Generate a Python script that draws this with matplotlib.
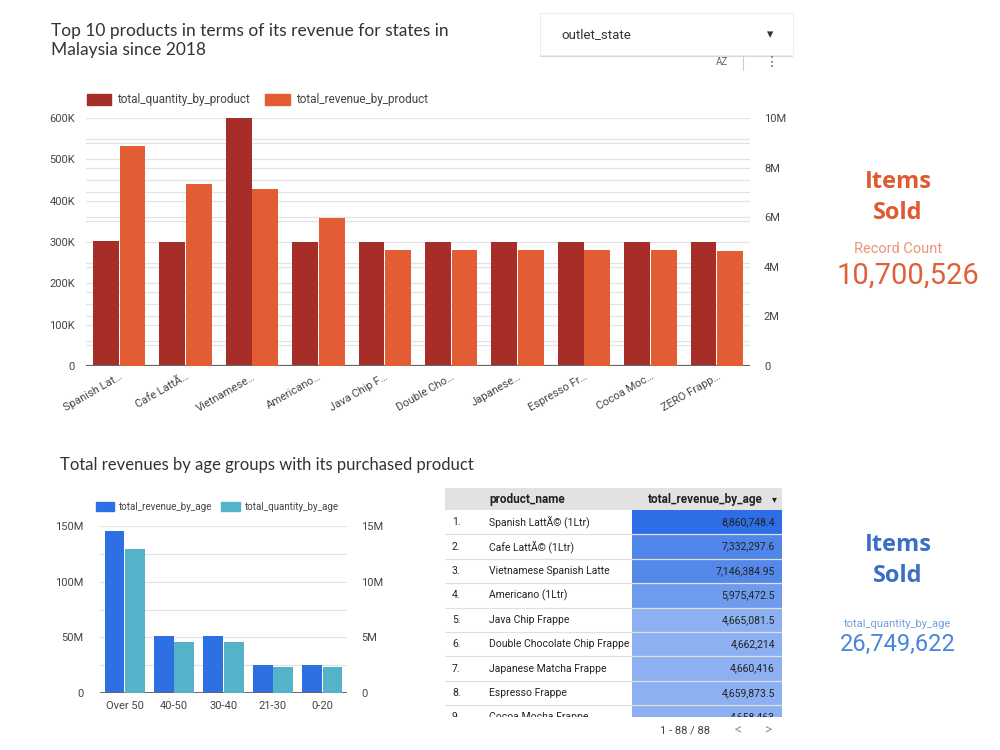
import numpy as np
import matplotlib.pyplot as plt
from matplotlib.patches import Rectangle, Patch
from matplotlib.colors import LinearSegmentedColormap, Normalize

# ---- data ----
products = ["Spanish Lat…", "Cafe LattÃ…", "Vietnamese…", "Americano…", "Java Chip F…",
            "Double Cho…", "Japanese…", "Espresso Fr…", "Cocoa Moc…", "ZERO Frapp…"]
qty_by_product = [302000, 300000, 600000, 299500, 300000, 300000, 300000, 300000, 300000, 300000]
rev_by_product = [8860748, 7332298, 7146385, 5975473, 4665082, 4662214, 4660416, 4659874, 4658463, 4652000]

age_groups = ["Over 50", "40-50", "30-40", "21-30", "0-20"]
rev_by_age = [145.2e6, 51.5e6, 51.5e6, 24.9e6, 24.9e6]
qty_by_age = [12.9e6, 4.6e6, 4.6e6, 2.3e6, 2.35e6]

table_names = ["Spanish LattÃ© (1Ltr)", "Cafe LattÃ© (1Ltr)", "Vietnamese Spanish Latte",
               "Americano (1Ltr)", "Java Chip Frappe", "Double Chocolate Chip Frappe",
               "Japanese Matcha Frappe", "Espresso Frappe", "Cocoa Mocha Frappe"]
table_values = [8860748.4, 7332297.6, 7146384.95, 5975472.5, 4665081.5, 4662214,
                4660416, 4659873.5, 4658463]
table_labels = ["8,860,748.4", "7,332,297.6", "7,146,384.95", "5,975,472.5", "4,665,081.5",
                "4,662,214", "4,660,416", "4,659,873.5", "4,658,463"]

record_count = "10,700,526"
total_qty_age = "26,749,622"

DARK_RED = "#a62d28"
ORANGE = "#e35d34"
BLUE = "#2f6fe4"
TEAL = "#54b3c8"
GRID = "#e3e3e3"
TXT = "#444444"

plt.rcParams['font.family'] = ['Roboto', 'DejaVu Sans']

W, H = 1000, 750
fig = plt.figure(figsize=(10, 7.5), dpi=100)


def box(x0, y0, x1, y1):
    # pixel box (top-left origin) -> figure fraction rect
    return [x0 / W, 1 - y1 / H, (x1 - x0) / W, (y1 - y0) / H]


def fx(x):
    return x / W


def fy(y):
    return 1 - y / H


# ---- top chart ----
ax = fig.add_axes(box(86, 118, 750, 366))
ax2 = ax.twinx()
x = np.arange(len(products))
bw = 0.39
ax.bar(x - 0.2, qty_by_product, bw, color=DARK_RED, zorder=3)
ax2.bar(x + 0.2, rev_by_product, bw, color=ORANGE, zorder=3)
ax.set_xlim(-0.5, len(products) - 0.5)
ax.set_ylim(0, 600000)
ax2.set_ylim(0, 10e6)
ax.set_yticks(np.arange(0, 600001, 100000))
ax.set_yticklabels(["0", "100K", "200K", "300K", "400K", "500K", "600K"])
ax2.set_yticks(np.arange(0, 10e6 + 1, 2e6))
ax2.set_yticklabels(["0", "2M", "4M", "6M", "8M", "10M"])
# gridlines for both scales, drawn on the left axis
grid_pos = sorted(set(np.arange(0, 600001, 50000)) | set(np.arange(0, 600001, 60000)))
ax.set_yticks(grid_pos, minor=True)
ax.grid(axis='y', which='both', color=GRID, lw=0.9, zorder=0)
ax.set_axisbelow(True)
ax.set_xticks(x)
ax.set_xticklabels(products, rotation=30, ha='right', rotation_mode='anchor', fontsize=8, color=TXT)
for a in (ax, ax2):
    for s in a.spines.values():
        s.set_visible(False)
    a.tick_params(axis='both', which='both', length=0, labelsize=8, labelcolor=TXT)
ax.tick_params(axis='y', pad=8)
ax2.tick_params(axis='y', pad=10)
ax.tick_params(axis='x', pad=4)
ax.axhline(0, color="#666666", lw=1.6, zorder=4)
ax.legend([Patch(color=DARK_RED), Patch(color=ORANGE)],
          ["total_quantity_by_product", "total_revenue_by_product"],
          loc='center left', bbox_to_anchor=(fx(76), fy(100)), bbox_transform=fig.transFigure,
          ncol=2, frameon=False, fontsize=8.5, handlelength=2.1, handleheight=1.0,
          handletextpad=0.5, columnspacing=1.3, labelcolor=TXT)

fig.text(fx(51), fy(31), "Top 10 products in terms of its revenue for states in",
         fontsize=12.5, family=['Lato', 'DejaVu Sans'], color="#333333", va='center')
fig.text(fx(51), fy(50), "Malaysia since 2018",
         fontsize=12.5, family=['Lato', 'DejaVu Sans'], color="#333333", va='center')

# dropdown control
fig.patches.append(Rectangle((fx(540), fy(57)), (793 - 540) / W, 44 / H, transform=fig.transFigure,
                             facecolor="#d8d8d8", edgecolor='none', zorder=1))
fig.patches.append(Rectangle((fx(540), fy(55)), (793 - 540) / W, 42 / H, transform=fig.transFigure,
                             facecolor="white", edgecolor="#eeeeee", lw=0.6, zorder=2))
fig.text(fx(561), fy(35), "outlet_state", fontsize=9.5, color="#333333", va='center', zorder=3)
fig.text(fx(770), fy(35), "▾", fontsize=9, color="#333333", va='center', ha='center', zorder=3)
fig.text(fx(722), fy(62), "AZ", fontsize=7, color="#666666", va='center', ha='center')
fig.lines.append(plt.Line2D([fx(743), fx(743)], [fy(56), fy(70)], transform=fig.transFigure,
                            color="#cccccc", lw=0.8))
fig.text(fx(772), fy(62), "⋮", fontsize=10, color="#666666", va='center', ha='center',
         family=['DejaVu Sans'])

# KPI top
fig.text(fx(898), fy(182), "Items", fontsize=17, color="#de5b32", ha='center', va='center',
         family=['Open Sans', 'DejaVu Sans'], weight='bold')
fig.text(fx(898), fy(213), "Sold", fontsize=17, color="#de5b32", ha='center', va='center',
         family=['Open Sans', 'DejaVu Sans'], weight='bold')
fig.text(fx(898), fy(249), "Record Count", fontsize=10.5, color="#eb9478", ha='center', va='center')
fig.text(fx(908), fy(276), record_count, fontsize=21, color="#e0603a", ha='center', va='center')

# ---- bottom chart ----
fig.text(fx(60), fy(465), "Total revenues by age groups with its purchased product",
         fontsize=12, family=['Lato', 'DejaVu Sans'], color="#333333", va='center')

bx = fig.add_axes(box(100, 526, 347, 693))
bx2 = bx.twinx()
xa = np.arange(len(age_groups))
bx.bar(xa - 0.205, rev_by_age, 0.4, color=BLUE, zorder=3)
bx2.bar(xa + 0.205, qty_by_age, 0.4, color=TEAL, zorder=3)
bx.set_xlim(-0.5, len(age_groups) - 0.5)
bx.set_ylim(0, 150e6)
bx2.set_ylim(0, 15e6)
bx.set_yticks([0, 50e6, 100e6, 150e6])
bx.set_yticklabels(["0", "50M", "100M", "150M"])
bx.set_yticks(np.arange(0, 150e6 + 1, 25e6), minor=True)
bx2.set_yticks([0, 5e6, 10e6, 15e6])
bx2.set_yticklabels(["0", "5M", "10M", "15M"])
bx.grid(axis='y', which='both', color=GRID, lw=0.9, zorder=0)
bx.set_axisbelow(True)
bx.set_xticks(xa)
bx.set_xticklabels(age_groups)
for a in (bx, bx2):
    for s in a.spines.values():
        s.set_visible(False)
    a.tick_params(axis='both', which='both', length=0, labelsize=8, labelcolor=TXT)
bx.tick_params(axis='y', pad=12)
bx2.tick_params(axis='y', pad=10)
bx.tick_params(axis='x', pad=6)
bx.axhline(0, color="#666666", lw=1.4, zorder=4)
bx.legend([Patch(color=BLUE), Patch(color=TEAL)],
          ["total_revenue_by_age", "total_quantity_by_age"],
          loc='center left', bbox_to_anchor=(fx(87), fy(507)), bbox_transform=fig.transFigure,
          ncol=2, frameon=False, fontsize=7, handlelength=1.9, handleheight=1.1,
          handletextpad=0.5, columnspacing=0.9, labelcolor=TXT)

# ---- table ----
tx0, tx1, ty0, ty1 = 445, 782, 488, 717
tb = fig.add_axes(box(tx0, ty0, tx1, ty1))
tb.set_xlim(tx0, tx1)
tb.set_ylim(ty1, ty0)
tb.axis('off')
hdr_h = 22
row_h = 24.4
val_x0 = 632
tb.add_patch(Rectangle((tx0, ty0), tx1 - tx0, hdr_h, facecolor="#e2e2e2", edgecolor='none'))
tb.text(489, ty0 + hdr_h / 2, "product_name", fontsize=8.5, weight='bold', color="#222222", va='center')
tb.text(763, ty0 + hdr_h / 2, "total_revenue_by_age", fontsize=8.5, weight='bold', color="#222222",
        va='center', ha='right')
tb.text(774, ty0 + hdr_h / 2, "▾", fontsize=7, color="#222222", va='center', ha='center',
        family=['DejaVu Sans'])
cmap = LinearSegmentedColormap.from_list("heat", ["#8cb0f1", "#2d6ee6"])
norm = Normalize(vmin=min(table_values), vmax=max(table_values))
for i, (name, v, lab) in enumerate(zip(table_names, table_values, table_labels)):
    top = ty0 + hdr_h + i * row_h
    cy = top + row_h / 2
    tb.add_patch(Rectangle((val_x0, top), tx1 - val_x0, row_h, facecolor=cmap(norm(v)),
                           edgecolor='none', clip_on=True))
    tb.plot([tx0, tx1], [top + row_h, top + row_h], color="#e0e0e0", lw=0.9, clip_on=True)
    tb.text(452, cy, f"{i + 1}.", fontsize=7.5, color="#222222", va='center', clip_on=True)
    tb.text(489, cy, name, fontsize=7.5, color="#222222", va='center', clip_on=True)
    tb.text(775, cy, lab, fontsize=7.5, color="#222222", va='center', ha='right', clip_on=True)

fig.text(fx(685), fy(730), "1 - 88 / 88", fontsize=8, color="#444444", ha='center', va='center')
fig.text(fx(738), fy(730), "<", fontsize=10, color="#999999", ha='center', va='center')
fig.text(fx(768), fy(730), ">", fontsize=10, color="#999999", ha='center', va='center')

# KPI bottom
fig.text(fx(898), fy(545), "Items", fontsize=17, color="#3a6fc4", ha='center', va='center',
         family=['Open Sans', 'DejaVu Sans'], weight='bold')
fig.text(fx(898), fy(576), "Sold", fontsize=17, color="#3a6fc4", ha='center', va='center',
         family=['Open Sans', 'DejaVu Sans'], weight='bold')
fig.text(fx(898), fy(624), "total_quantity_by_age", fontsize=8, color="#6fa0e0", ha='center', va='center')
fig.text(fx(898), fy(644), total_qty_age, fontsize=17, color="#4a86d8", ha='center', va='center')

fig.savefig("out.png", dpi=100, facecolor="white")
